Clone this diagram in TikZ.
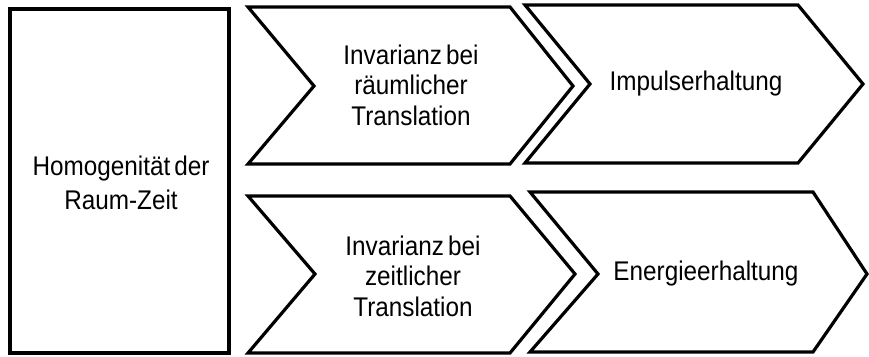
\documentclass[tikz,border=0pt]{standalone}
\usepackage{fontspec}
\setmainfont{Liberation Sans}[FakeStretch=0.9,WordSpace=0.6]
\newcommand\chevshape[7]{% left notch corner tip top bottom mid
  \draw[shapeline] (#1,#5) -- (#3,#5) -- (#4,#7) -- (#3,#6) -- (#1,#6) -- (#2,#7) -- cycle;}
\tikzset{
  shapeline/.style={line width=3.2pt, line join=miter, draw=black, fill=white},
  lbl/.style={align=center, font=\fontsize{27pt}{30.5pt}\selectfont, inner sep=0pt},
  lblwide/.style={lbl, font=\fontsize{27pt}{34pt}\selectfont}
}
\begin{document}
\begin{tikzpicture}[x=1pt,y=-1pt]
\useasboundingbox (0,0) rectangle (869,356);
\draw[shapeline] (10,9) rectangle (229,353);
\node[lblwide] (hom) at (121,183) {Homogenität der\\Raum-Zeit};
\chevshape{248}{314}{510}{573}{7}{164}{86}
\node[lbl] (invr) at (411,85) {Invarianz bei\\räumlicher\\Translation};
\chevshape{525}{590}{798}{863}{5}{163}{84}
\node[lbl] (imp) at (696,84) {Impulserhaltung};
\chevshape{248}{315}{510}{575}{196}{353}{274}
\node[lbl] (invz) at (413,276) {Invarianz bei\\zeitlicher\\Translation};
\chevshape{530}{598}{813}{867}{192}{352}{274}
\node[lbl] (ene) at (706,274) {Energieerhaltung};
\end{tikzpicture}
\end{document}
